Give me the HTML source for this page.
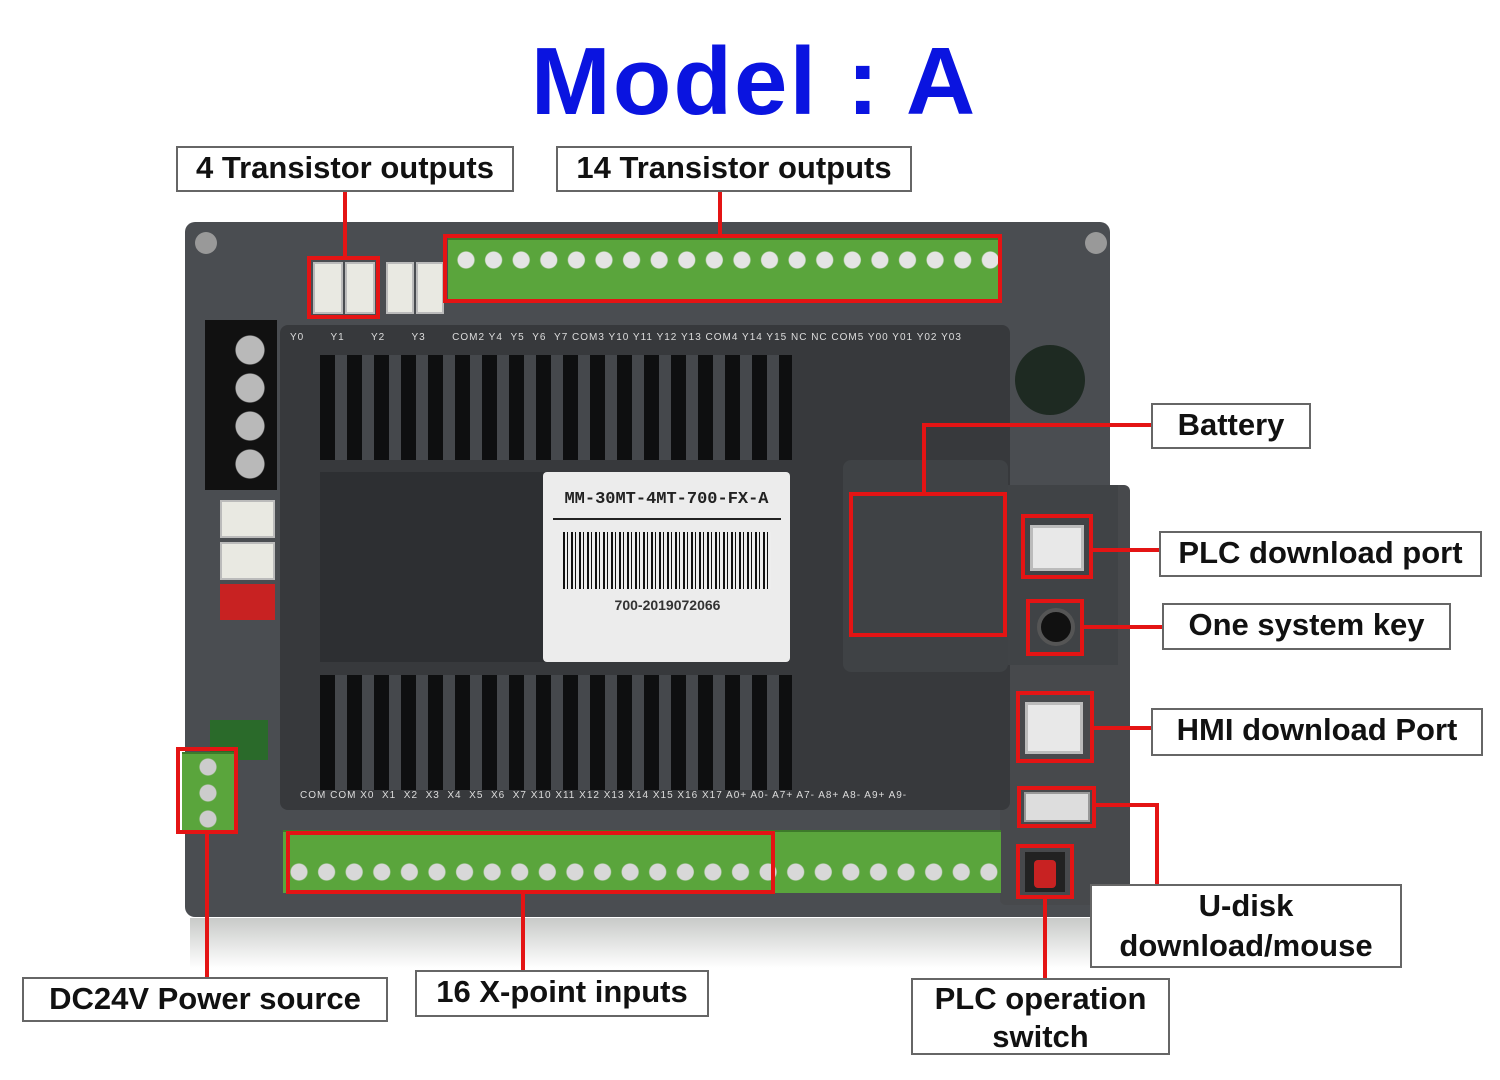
<!DOCTYPE html>
<html><head><meta charset="utf-8"><style>
body{margin:0;width:1500px;height:1080px;background:#fff;position:relative;overflow:hidden;font-family:"Liberation Sans",sans-serif}
div{position:absolute;box-sizing:border-box}
.lb{background:#fff;border:2px solid #666;font-weight:bold;font-size:31px;color:#111;text-align:center;line-height:1.3}
.r{border:4px solid #e41414}
.ln{background:#e41414}
.term{background:#5aa53c;border-top:2px solid #3d7a2a}
.vent{background:repeating-linear-gradient(90deg,#0e0f10 0 15px,#45484c 15px 27px)}
.usbb{background:#e8e8e8;border:3px solid #bbb}
.wc{background:#e9e9e2;border:2px solid #bbb}
</style></head><body>
<div style="left:0;top:27px;width:1508px;text-align:center;font-size:96px;font-weight:bold;color:#0a14e0;letter-spacing:2px;white-space:nowrap">Model : A</div>

<div style="left:185px;top:222px;width:925px;height:695px;background:#4a4d51;border-radius:10px"></div>
<div style="left:1000px;top:485px;width:130px;height:420px;background:#47494c;border-radius:6px"></div>
<div style="left:280px;top:325px;width:730px;height:485px;background:#37393c;border-radius:8px"></div>
<div style="left:195px;top:232px;width:22px;height:22px;border-radius:50%;background:#999"></div>
<div style="left:1085px;top:232px;width:22px;height:22px;border-radius:50%;background:#999"></div>
<div style="left:1015px;top:345px;width:70px;height:70px;border-radius:50%;background:#1e2a22"></div>

<div class="wc" style="left:313px;top:262px;width:30px;height:52px"></div>
<div class="wc" style="left:345px;top:262px;width:30px;height:52px"></div>
<div class="wc" style="left:386px;top:262px;width:28px;height:52px"></div>
<div class="wc" style="left:416px;top:262px;width:28px;height:52px"></div>
<div class="term" style="left:448px;top:238px;width:550px;height:62px;background:radial-gradient(circle at 13px 20px,#e4e4e4 8px,transparent 9px) 5px 0/27.6px 62px repeat-x,#5aa53c"></div>
<div style="left:290px;top:332px;width:700px;height:14px;font-size:10px;color:#ddd;white-space:nowrap;letter-spacing:1px">Y0 &nbsp; &nbsp; &nbsp; Y1 &nbsp; &nbsp; &nbsp; Y2 &nbsp; &nbsp; &nbsp; Y3 &nbsp; &nbsp; &nbsp; COM2 Y4 &nbsp;Y5 &nbsp;Y6 &nbsp;Y7 COM3 Y10 Y11 Y12 Y13 COM4 Y14 Y15 NC NC COM5 Y00 Y01 Y02 Y03</div>
<div class="vent" style="left:320px;top:355px;width:472px;height:105px"></div>
<div class="vent" style="left:320px;top:675px;width:472px;height:115px"></div>
<div style="left:320px;top:472px;width:230px;height:190px;background:#2d2f32"></div>
<div style="left:205px;top:320px;width:72px;height:170px;background:#111"></div>
<div style="left:232px;top:330px;width:36px;height:150px;background:radial-gradient(circle at 18px 20px,#b9b9b9 14px,transparent 15px) 0 0/36px 38px repeat-y"></div>
<div class="wc" style="left:220px;top:500px;width:55px;height:38px"></div>
<div class="wc" style="left:220px;top:542px;width:55px;height:38px"></div>
<div style="left:220px;top:584px;width:55px;height:36px;background:#c82222"></div>
<div style="left:543px;top:472px;width:247px;height:190px;background:#ececec;border-radius:4px"></div>
<div style="left:545px;top:490px;width:243px;font-size:17px;font-family:'Liberation Mono',monospace;font-weight:bold;color:#222;text-align:center;white-space:nowrap">MM-30MT-4MT-700-FX-A</div>
<div style="left:553px;top:518px;width:228px;height:2px;background:#222"></div>
<div style="left:563px;top:532px;width:208px;height:57px;background:repeating-linear-gradient(90deg,#111 0 2px,#eee 2px 4px,#111 4px 5px,#eee 5px 8px)"></div>
<div style="left:560px;top:597px;width:215px;font-size:14px;font-weight:bold;color:#333;text-align:center">700-2019072066</div>
<div style="left:843px;top:460px;width:165px;height:212px;background:#3f4245;border-radius:8px"></div>
<div style="left:1008px;top:485px;width:110px;height:180px;background:#404346"></div>
<div class="usbb" style="left:1030px;top:525px;width:54px;height:46px"></div>
<div style="left:1037px;top:608px;width:38px;height:38px;border-radius:50%;background:#111;border:4px solid #555"></div>
<div class="usbb" style="left:1025px;top:702px;width:58px;height:52px"></div>
<div style="left:1024px;top:792px;width:66px;height:30px;background:#ddd;border:2px solid #999"></div>
<div style="left:1025px;top:852px;width:40px;height:40px;background:#222"></div>
<div style="left:1034px;top:860px;width:22px;height:28px;background:#c82222;border-radius:4px"></div>
<div style="left:300px;top:790px;width:700px;height:14px;font-size:10px;color:#ddd;white-space:nowrap;letter-spacing:1px">COM COM X0 &nbsp;X1 &nbsp;X2 &nbsp;X3 &nbsp;X4 &nbsp;X5 &nbsp;X6 &nbsp;X7 X10 X11 X12 X13 X14 X15 X16 X17 A0+ A0- A7+ A7- A8+ A8- A9+ A9-</div>
<div class="term" style="left:283px;top:830px;width:718px;height:63px;background:radial-gradient(circle at 13px 40px,#d8d8d8 8px,transparent 9px) 3px 0/27.6px 63px repeat-x,#5aa53c"></div>
<div style="left:210px;top:720px;width:58px;height:40px;background:#2a6a2a"></div>
<div class="term" style="left:182px;top:752px;width:52px;height:78px;background:radial-gradient(circle at 26px 13px,#ccc 8px,transparent 9px) 0 0/52px 26px repeat-y,#5aa53c"></div>
<div style="left:190px;top:918px;width:920px;height:50px;background:linear-gradient(#c8cac8,#fff)"></div>

<div class="r" style="left:307px;top:256px;width:73px;height:63px"></div>
<div class="ln" style="left:343px;top:191px;width:4px;height:66px"></div>
<div class="r" style="left:443px;top:234px;width:559px;height:69px"></div>
<div class="ln" style="left:718px;top:191px;width:4px;height:44px"></div>
<div class="r" style="left:849px;top:492px;width:158px;height:145px"></div>
<div class="ln" style="left:922px;top:423px;width:4px;height:70px"></div>
<div class="ln" style="left:922px;top:423px;width:230px;height:4px"></div>
<div class="r" style="left:1021px;top:514px;width:72px;height:65px"></div>
<div class="ln" style="left:1092px;top:548px;width:68px;height:4px"></div>
<div class="r" style="left:1026px;top:599px;width:58px;height:57px"></div>
<div class="ln" style="left:1083px;top:625px;width:80px;height:4px"></div>
<div class="r" style="left:1016px;top:691px;width:78px;height:72px"></div>
<div class="ln" style="left:1093px;top:726px;width:59px;height:4px"></div>
<div class="r" style="left:1017px;top:786px;width:79px;height:42px"></div>
<div class="ln" style="left:1095px;top:803px;width:62px;height:4px"></div>
<div class="ln" style="left:1155px;top:803px;width:4px;height:82px"></div>
<div class="r" style="left:1016px;top:844px;width:58px;height:55px"></div>
<div class="ln" style="left:1043px;top:898px;width:4px;height:81px"></div>
<div class="r" style="left:286px;top:831px;width:489px;height:63px"></div>
<div class="ln" style="left:521px;top:893px;width:4px;height:78px"></div>
<div class="r" style="left:176px;top:747px;width:62px;height:87px"></div>
<div class="ln" style="left:205px;top:833px;width:4px;height:145px"></div>

<div class="lb" style="left:176px;top:146px;width:338px;height:46px">4 Transistor outputs</div>
<div class="lb" style="left:556px;top:146px;width:356px;height:46px">14 Transistor outputs</div>
<div class="lb" style="left:1151px;top:403px;width:160px;height:46px">Battery</div>
<div class="lb" style="left:1159px;top:531px;width:323px;height:46px">PLC download port</div>
<div class="lb" style="left:1162px;top:603px;width:289px;height:47px">One system key</div>
<div class="lb" style="left:1151px;top:708px;width:332px;height:48px">HMI download Port</div>
<div class="lb" style="left:1090px;top:884px;width:312px;height:84px;line-height:40px">U-disk<br>download/mouse</div>
<div class="lb" style="left:911px;top:978px;width:259px;height:77px;line-height:38px">PLC operation<br>switch</div>
<div class="lb" style="left:415px;top:970px;width:294px;height:47px">16 X-point inputs</div>
<div class="lb" style="left:22px;top:977px;width:366px;height:45px">DC24V Power source</div>
</body></html>
